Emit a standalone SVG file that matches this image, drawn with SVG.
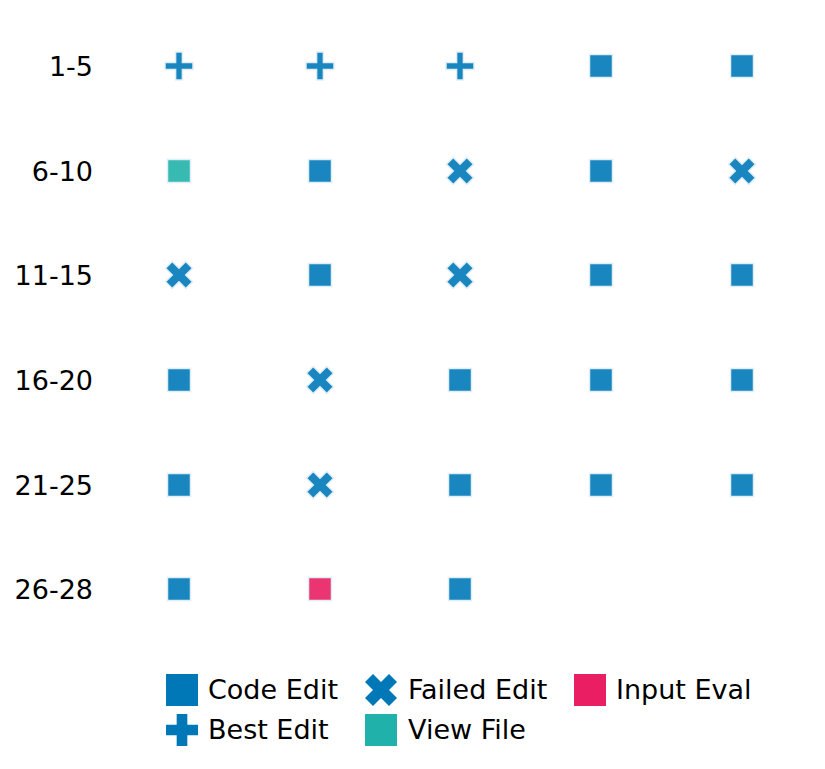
<svg xmlns="http://www.w3.org/2000/svg" xmlns:xlink="http://www.w3.org/1999/xlink" width="825" height="769" viewBox="0 0 825 769">
<style>
.lbl{font-family:"DejaVu Sans","Liberation Sans",sans-serif;font-size:27px;fill:#000}
.row{text-anchor:end}
.m{stroke:#dfeef7;stroke-width:1.5}
.blue{fill:#1a86bf}
.teal{fill:#36bab2}
.pink{fill:#eb3472}
</style>
<defs>
<rect id="sq" x="-11.5" y="-11.5" width="23" height="23"/>
<polygon id="pl" points="-3.4,-14 3.4,-14 3.4,-3.4 14,-3.4 14,3.4 3.4,3.4 3.4,14 -3.4,14 -3.4,3.4 -14,3.4 -14,-3.4 -3.4,-3.4"/>
<polygon id="xx" points="-6.75,-13.5 0,-6.75 6.75,-13.5 13.5,-6.75 6.75,0 13.5,6.75 6.75,13.5 0,6.75 -6.75,13.5 -13.5,6.75 -6.75,0 -13.5,-6.75"/>
</defs>
<rect width="825" height="769" fill="#fff"/>
<g id="row-labels">
<text class="lbl row" x="93" y="76">1-5</text>
<text class="lbl row" x="93" y="181">6-10</text>
<text class="lbl row" x="93" y="285">11-15</text>
<text class="lbl row" x="93" y="390">16-20</text>
<text class="lbl row" x="93" y="495">21-25</text>
<text class="lbl row" x="93" y="599">26-28</text>
</g>
<g id="connectors"/>
<g id="grid">
<g id="r1">
<use href="#pl" class="m blue" x="179" y="66"/>
<use href="#pl" class="m blue" x="320" y="66"/>
<use href="#pl" class="m blue" x="460" y="66"/>
<use href="#sq" class="m blue" x="601" y="66"/>
<use href="#sq" class="m blue" x="742" y="66"/>
</g>
<g id="r2">
<use href="#sq" class="m teal" x="179" y="171"/>
<use href="#sq" class="m blue" x="320" y="171"/>
<use href="#xx" class="m blue" x="460" y="171"/>
<use href="#sq" class="m blue" x="601" y="171"/>
<use href="#xx" class="m blue" x="742" y="171"/>
</g>
<g id="r3">
<use href="#xx" class="m blue" x="179" y="275"/>
<use href="#sq" class="m blue" x="320" y="275"/>
<use href="#xx" class="m blue" x="460" y="275"/>
<use href="#sq" class="m blue" x="601" y="275"/>
<use href="#sq" class="m blue" x="742" y="275"/>
</g>
<g id="r4">
<use href="#sq" class="m blue" x="179" y="380"/>
<use href="#xx" class="m blue" x="320" y="380"/>
<use href="#sq" class="m blue" x="460" y="380"/>
<use href="#sq" class="m blue" x="601" y="380"/>
<use href="#sq" class="m blue" x="742" y="380"/>
</g>
<g id="r5">
<use href="#sq" class="m blue" x="179" y="485"/>
<use href="#xx" class="m blue" x="320" y="485"/>
<use href="#sq" class="m blue" x="460" y="485"/>
<use href="#sq" class="m blue" x="601" y="485"/>
<use href="#sq" class="m blue" x="742" y="485"/>
</g>
<g id="r6">
<use href="#sq" class="m blue" x="179" y="589"/>
<use href="#sq" class="m pink" x="320" y="589"/>
<use href="#sq" class="m blue" x="460" y="589"/>
</g>
</g>
<g id="legend">
<g id="leg-code">
<rect x="166" y="674" width="32" height="32" fill="#0077b6"/>
<text class="lbl" x="208" y="699">Code Edit</text>
</g>
<g id="leg-failed">
<polygon transform="translate(381,690)" fill="#0077b6" points="-8,-16 0,-8 8,-16 16,-8 8,0 16,8 8,16 0,8 -8,16 -16,8 -8,0 -16,-8"/>
<text class="lbl" x="408" y="699">Failed Edit</text>
</g>
<g id="leg-input">
<rect x="574" y="674" width="32" height="32" fill="#e91e63"/>
<text class="lbl" x="616" y="699">Input Eval</text>
</g>
<g id="leg-best">
<polygon transform="translate(182,730)" fill="#0077b6" points="-5.33,-16 5.33,-16 5.33,-5.33 16,-5.33 16,5.33 5.33,5.33 5.33,16 -5.33,16 -5.33,5.33 -16,5.33 -16,-5.33 -5.33,-5.33"/>
<text class="lbl" x="208" y="739">Best Edit</text>
</g>
<g id="leg-view">
<rect x="365" y="714" width="32" height="32" fill="#20b2aa"/>
<text class="lbl" x="408" y="739">View File</text>
</g>
</g>
</svg>
